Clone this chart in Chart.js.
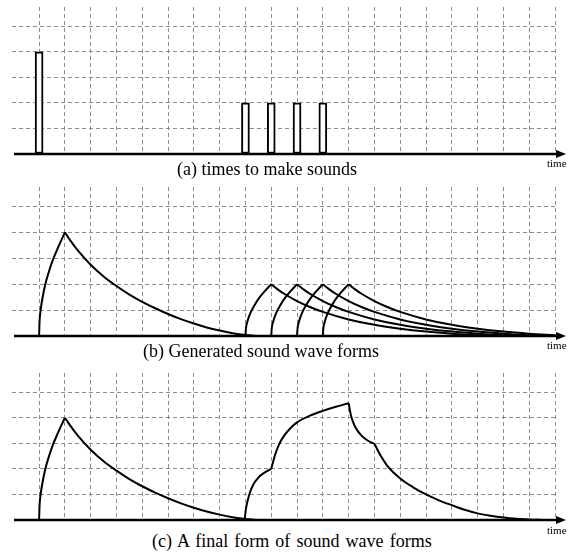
<!DOCTYPE html>
<html>
<head>
<meta charset="utf-8">
<script src="https://cdn.jsdelivr.net/npm/chart.js@4.4.1/dist/chart.umd.min.js"></script>
<style>
  body { margin: 0; background: #fff; }
  #wrap { position: relative; width: 569px; height: 552px; overflow: hidden; }
  canvas { position: absolute; left: 0; }
  .caption { position: absolute; font-family: "Liberation Serif", serif; font-size: 18px; line-height: 18px; color: #000; white-space: nowrap; }
  .time { position: absolute; font-family: "Liberation Serif", serif; font-size: 11px; line-height: 11px; color: #000; }
</style>
</head>
<body>
<div id="wrap">
  <canvas id="panelA" width="569" height="165" style="top:0px"></canvas>
  <canvas id="panelB" width="569" height="165" style="top:180px"></canvas>
  <canvas id="panelC" width="569" height="165" style="top:365px"></canvas>
  <div class="caption" style="left:177px; top:160px">(a) times to make sounds</div>
  <div class="caption" style="left:143px; top:342px">(b) Generated sound wave forms</div>
  <div class="caption" style="left:152px; top:532px; word-spacing:1.6px">(c) A final form of sound wave forms</div>
  <div class="time" style="left:547px; top:158px">time</div>
  <div class="time" style="left:547px; top:340px">time</div>
  <div class="time" style="left:547px; top:525px">time</div>
</div>
<script>
// --- datos ---

// grid ticks (time units and level units)
const xTicks = [0, 1, 2, 3, 4, 5, 6, 7, 8, 9, 10, 11, 12, 13, 14, 15, 16, 17, 18, 19, 20];
const yTicks = [0, 1, 2, 3, 4, 5];

// (a) times to make sounds
const soundTimes = [0, 8, 9, 10, 11];
const soundLevels = [4, 2, 2, 2, 2];

// (b) first, big sound
const bigRiseX = [0, 0.02, 0.06, 0.12, 0.23, 0.37, 0.52, 0.75, 1];
const bigRiseY = [0, 0.6, 1.0, 1.4, 1.95, 2.45, 2.9, 3.45, 4];
const bigDecayX = [1, 1.25, 1.5, 2, 2.5, 3, 3.5, 4, 4.5, 5, 5.5, 6, 6.5, 7, 7.5, 8, 8.5];
const bigDecayY = [4, 3.63, 3.3, 2.75, 2.3, 1.93, 1.6, 1.32, 1.07, 0.85, 0.65, 0.48, 0.33, 0.21, 0.11, 0.04, 0];

// (b) four small sounds
const smallRiseY = [0, 0.3, 0.5, 0.7, 0.97, 1.22, 1.45, 1.73, 2];
const smallDecayY = [2, 1.8, 1.63, 1.35, 1.12, 0.93, 0.64, 0.43, 0.28, 0.17, 0.09, 0.03, 0];

const wave1RiseX = [8, 8.02, 8.06, 8.12, 8.23, 8.37, 8.52, 8.75, 9];
const wave1DecayX = [9, 9.25, 9.5, 10, 10.5, 11, 12, 13, 14, 15, 16, 17, 18];
const wave2RiseX = [9, 9.02, 9.06, 9.12, 9.23, 9.37, 9.52, 9.75, 10];
const wave2DecayX = [10, 10.25, 10.5, 11, 11.5, 12, 13, 14, 15, 16, 17, 18, 19];
const wave3RiseX = [10, 10.02, 10.06, 10.12, 10.23, 10.37, 10.52, 10.75, 11];
const wave3DecayX = [11, 11.25, 11.5, 12, 12.5, 13, 14, 15, 16, 17, 18, 19, 20];
const wave4RiseX = [11, 11.02, 11.06, 11.12, 11.23, 11.37, 11.52, 11.75, 12];
const wave4DecayX = [12, 12.25, 12.5, 13, 13.5, 14, 15, 16, 17, 18, 19, 20];

// (c) final form, second hump (sum of the small sounds)
const humpRise1X = [7.97, 8.0, 8.05, 8.15, 8.3, 8.5, 8.75, 9];
const humpRise1Y = [0, 0.3, 0.6, 1.0, 1.38, 1.66, 1.86, 2.0];
const humpRise2X = [9, 9.15, 9.3, 9.5, 9.75, 10, 10.5, 11, 11.5, 12];
const humpRise2Y = [2.0, 2.55, 2.95, 3.3, 3.6, 3.82, 4.08, 4.27, 4.43, 4.57];
const humpDropX = [12, 12.1, 12.25, 12.5, 12.75, 13];
const humpDropY = [4.57, 4.05, 3.65, 3.3, 3.1, 2.98];
const humpDecayX = [13, 13.25, 13.5, 14, 14.5, 15, 15.5, 16, 16.5, 17, 17.5, 18, 18.5, 19, 19.5];
const humpDecayY = [2.98, 2.5, 2.12, 1.62, 1.28, 1.0, 0.77, 0.58, 0.4, 0.26, 0.17, 0.1, 0.05, 0.02, 0];


// --- helpers ---

function puntos(xs, ys) {
    return xs.map((x, k) => ({ x: x, y: ys[k] }));
}

// one smooth black stroke
function curva(xs, ys) {
    return {
        type: 'line',
        data: puntos(xs, ys),
        borderColor: '#000',
        borderWidth: 2,
        pointRadius: 0,
        fill: false,
        cubicInterpolationMode: 'monotone',
        parsing: false
    };
}

// thick time axis with arrow head, drawn over the curves
const ejeTiempo = {
    id: 'ejeTiempo',
    afterDatasetsDraw(chart) {
        const ctx = chart.ctx;
        const y = chart.scales.y.getPixelForValue(0);
        ctx.save();
        ctx.strokeStyle = '#000';
        ctx.fillStyle = '#000';
        ctx.lineWidth = 2.5;
        ctx.beginPath();
        ctx.moveTo(14, y);
        ctx.lineTo(559, y);
        ctx.stroke();
        ctx.beginPath();
        ctx.moveTo(566, y);
        ctx.lineTo(556, y - 4);
        ctx.lineTo(556, y + 4);
        ctx.closePath();
        ctx.fill();
        ctx.restore();
    }
};

function crearPanel(id, tipo, datasets, padTop, padBottom) {
    return new Chart(document.getElementById(id), {
        type: tipo,
        data: { datasets: datasets },
        options: {
            responsive: false,
            animation: false,
            layout: { padding: { left: 12, right: 14, top: padTop, bottom: padBottom } },
            plugins: { legend: { display: false }, tooltip: { enabled: false } },
            scales: {
                x: {
                    type: 'linear',
                    min: -1.05,
                    max: 20,
                    offset: false,
                    afterBuildTicks: (s) => { s.ticks = xTicks.map(v => ({ value: v })); },
                    ticks: { display: false },
                    grid: { color: '#8e8e8e', lineWidth: 1, drawTicks: false, offset: false },
                    border: { display: false, dash: [4, 3] }
                },
                y: {
                    type: 'linear',
                    min: 0,
                    max: 5.75,
                    afterBuildTicks: (s) => { s.ticks = yTicks.map(v => ({ value: v })); },
                    ticks: { display: false },
                    grid: {
                        color: (c) => c.tick && c.tick.value === 0 ? 'rgba(0,0,0,0)' : '#8e8e8e',
                        lineWidth: 1,
                        drawTicks: false
                    },
                    border: { display: false, dash: [4, 3] }
                }
            }
        },
        plugins: [ejeTiempo]
    });
}

// (a) bars
crearPanel('panelA', 'bar', [{
    data: puntos(soundTimes, soundLevels),
    backgroundColor: '#fff',
    borderColor: '#000',
    borderWidth: 2,
    borderSkipped: false,
    barThickness: 8,
    parsing: false
}], 7, 11);

// (b) generated sound wave forms
crearPanel('panelB', 'line', [
    curva(bigRiseX, bigRiseY),
    curva(bigDecayX, bigDecayY),
    curva(wave1RiseX, smallRiseY),
    curva(wave1DecayX, smallDecayY),
    curva(wave2RiseX, smallRiseY),
    curva(wave2DecayX, smallDecayY),
    curva(wave3RiseX, smallRiseY),
    curva(wave3DecayX, smallDecayY),
    curva(wave4RiseX, smallRiseY),
    curva(wave4DecayX, smallDecayY.slice(0, 12))
], 7, 9);

// (c) final form
crearPanel('panelC', 'line', [
    curva(bigRiseX, bigRiseY),
    curva(bigDecayX, bigDecayY),
    curva(humpRise1X, humpRise1Y),
    curva(humpRise2X, humpRise2Y),
    curva(humpDropX, humpDropY),
    curva(humpDecayX, humpDecayY)
], 8, 10);
</script>
</body>
</html>
